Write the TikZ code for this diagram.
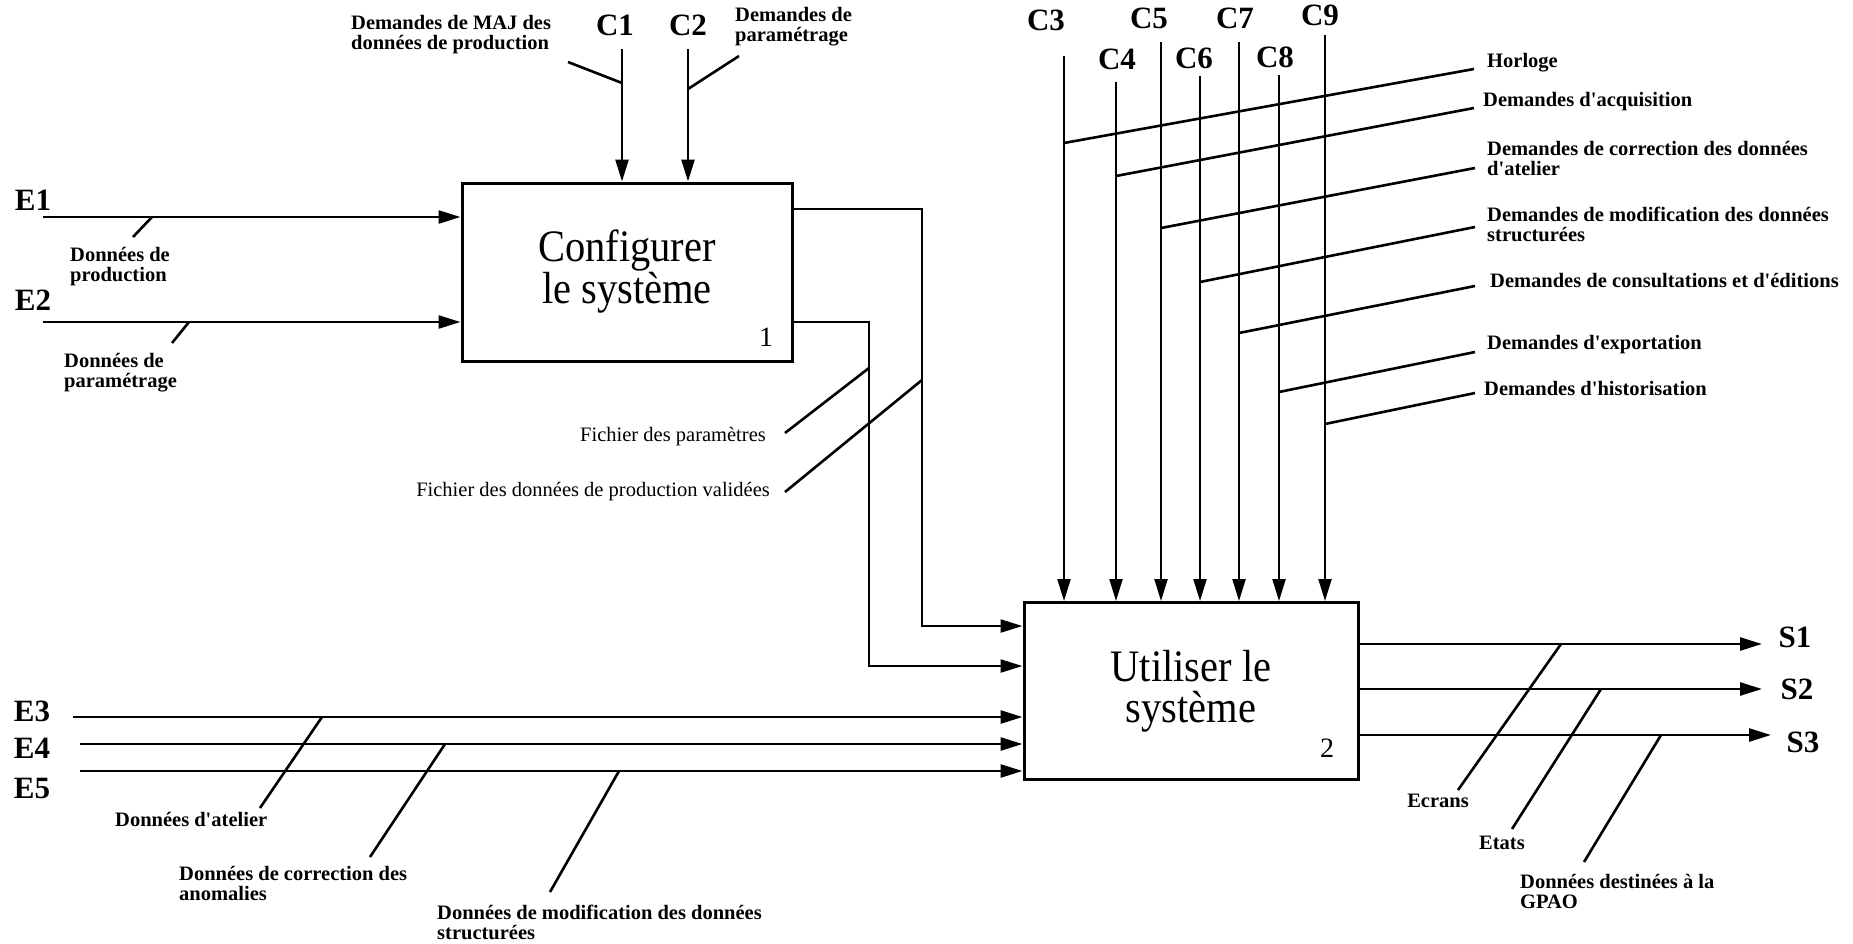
\documentclass[tikz,border=0pt]{standalone}
\usepackage{fontspec}
\setmainfont{Liberation Serif}
\newfontfamily\condfont[FakeStretch=0.9]{Liberation Serif}
\usetikzlibrary{arrows.meta}
\newcommand\ap{\textquotesingle}
\tikzset{
  ln/.style={line width=2.6pt},
  vln/.style={line width=2.2pt},
  arr/.style={-{Triangle[length=22pt,width=13pt]}},
  box/.style={draw, line width=3pt, rectangle, inner sep=0pt, align=center,
    font=\condfont\fontsize{45}{41}\selectfont},
  lab/.style={font=\fontsize{20.5}{20}\selectfont\bfseries, align=left, inner sep=0pt},
  fich/.style={font=\fontsize{20.5}{20}\selectfont, inner sep=0pt, anchor=east},
  bigc/.style={font=\fontsize{31}{31}\selectfont\bfseries, inner sep=0pt},
  bigb/.style={font=\fontsize{31}{31}\selectfont\bfseries, inner sep=0pt},
  num/.style={font=\fontsize{28}{28}\selectfont, inner sep=0pt},
}
\begin{document}
\begin{tikzpicture}[x=1pt,y=-1pt]
\useasboundingbox (0,0) rectangle (1853,943);

% boxes
\node[box, minimum width=330pt, minimum height=178pt] (b1) at (627,272) {Configurer\\le système};
\node[box, minimum width=334pt, minimum height=177pt] (b2) at (1191,691) {Utiliser le\\système};
\node[num] (n1) at (766,337) {1};
\node[num] (n2) at (1327,748) {2};

% ---------- box 1 controls
\node[bigc] (c1l) at (615,25) {C1};
\node[bigc] (c2l) at (688,25) {C2};
\coordinate (c1s) at (622,49);
\coordinate (c2s) at (688,49);
\draw[ln,arr] (c1s) -- (c1s |- b1.north);
\draw[ln,arr] (c2s) -- (c2s |- b1.north);
\coordinate (c1t) at (622,83); \coordinate (c1te) at (568,62);
\coordinate (c2t) at (688,89); \coordinate (c2te) at (739,56);
\draw[ln] (c1te) -- (c1t);
\draw[ln] (c2te) -- (c2t);
\node[lab, anchor=west] (c1d) at (351,35) {Demandes de MAJ des\\données de production};
\node[lab, anchor=west] (c2d) at (735,27) {Demandes de\\paramétrage};

% ---------- box 1 inputs
\node[bigb] (e1l) at (33,200) {E1};
\node[bigb] (e2l) at (33,300) {E2};
\coordinate (e1s) at (43,217);
\coordinate (e2s) at (43,322);
\draw[ln,arr] (e1s) -- (e1s -| b1.west);
\draw[ln,arr] (e2s) -- (e2s -| b1.west);
\coordinate (e1t) at (152,217); \coordinate (e1te) at (133,237);
\coordinate (e2t) at (189,322); \coordinate (e2te) at (172,343);
\draw[ln] (e1t) -- (e1te);
\draw[ln] (e2t) -- (e2te);
\node[lab, anchor=west] (e1d) at (70,267) {Données de\\production};
\node[lab, anchor=west] (e2d) at (64,373) {Données de\\paramétrage};

% ---------- box 1 outputs -> box 2
\coordinate (o1a) at (792,209); \coordinate (o1b) at (922,626);
\coordinate (o2a) at (792,322); \coordinate (o2b) at (869,666);
\draw[vln,arr] (b1.east |- o1a) -| (o1b) -- (o1b -| b2.west);
\draw[vln,arr] (b1.east |- o2a) -| (o2b) -- (o2b -| b2.west);
\coordinate (f1t) at (869,368); \coordinate (f1te) at (785,433);
\coordinate (f2t) at (922,380); \coordinate (f2te) at (785,492);
\draw[ln] (f1t) -- (f1te);
\draw[ln] (f2t) -- (f2te);
\node[fich] (f1d) at (766,437) {Fichier des paramètres};
\node[fich] (f2d) at (770,492) {Fichier des données de production validées};

% ---------- box 2 controls
\node[bigc] (c3l) at (1046,20) {C3};
\node[bigc] (c4l) at (1117,59) {C4};
\node[bigc] (c5l) at (1149,18) {C5};
\node[bigc] (c6l) at (1194,58) {C6};
\node[bigc] (c7l) at (1235,18) {C7};
\node[bigc] (c8l) at (1275,57) {C8};
\node[bigc] (c9l) at (1320,15) {C9};
\coordinate (c3s) at (1064,56);
\coordinate (c4s) at (1116,82);
\coordinate (c5s) at (1161,42);
\coordinate (c6s) at (1200,76);
\coordinate (c7s) at (1239,42);
\coordinate (c8s) at (1279,75);
\coordinate (c9s) at (1325,35);
\foreach \c in {c3s,c4s,c5s,c6s,c7s,c8s,c9s}
  \draw[vln,arr] (\c) -- (\c |- b2.north);
\coordinate (t3) at (1064,143); \coordinate (t3e) at (1474,69);
\coordinate (t4) at (1116,176); \coordinate (t4e) at (1474,108);
\coordinate (t5) at (1161,228); \coordinate (t5e) at (1475,168);
\coordinate (t6) at (1200,282); \coordinate (t6e) at (1475,227);
\coordinate (t7) at (1239,333); \coordinate (t7e) at (1475,286);
\coordinate (t8) at (1279,392); \coordinate (t8e) at (1475,352);
\coordinate (t9) at (1325,424); \coordinate (t9e) at (1475,393);
\draw[ln] (t3) -- (t3e);
\draw[ln] (t4) -- (t4e);
\draw[ln] (t5) -- (t5e);
\draw[ln] (t6) -- (t6e);
\draw[ln] (t7) -- (t7e);
\draw[ln] (t8) -- (t8e);
\draw[ln] (t9) -- (t9e);
\node[lab, anchor=west] (d3) at (1487,63) {Horloge};
\node[lab, anchor=west] (d4) at (1483,102) {Demandes d\ap acquisition};
\node[lab, anchor=west] (d5) at (1487,158) {Demandes de correction des données\\d\ap atelier};
\node[lab, anchor=west] (d6) at (1487,224) {Demandes de modification des données\\structurées};
\node[lab, anchor=west] (d7) at (1490,280) {Demandes de consultations et d\ap éditions};
\node[lab, anchor=west] (d8) at (1487,345) {Demandes d\ap exportation};
\node[lab, anchor=west] (d9) at (1484,388) {Demandes d\ap historisation};

% ---------- box 2 inputs
\node[bigb] (e3l) at (32,711) {E3};
\node[bigb] (e4l) at (32,748) {E4};
\node[bigb] (e5l) at (32,788) {E5};
\coordinate (e3s) at (73,717);
\coordinate (e4s) at (80,744);
\coordinate (e5s) at (80,771);
\draw[ln,arr] (e3s) -- (e3s -| b2.west);
\draw[ln,arr] (e4s) -- (e4s -| b2.west);
\draw[ln,arr] (e5s) -- (e5s -| b2.west);
\coordinate (e3t) at (322,717); \coordinate (e3te) at (260,808);
\coordinate (e4t) at (445,744); \coordinate (e4te) at (370,857);
\coordinate (e5t) at (619,771); \coordinate (e5te) at (550,892);
\draw[ln] (e3t) -- (e3te);
\draw[ln] (e4t) -- (e4te);
\draw[ln] (e5t) -- (e5te);
\node[lab, anchor=west] (e3d) at (115,819) {Données d\ap atelier};
\node[lab, anchor=west] (e4d) at (179,883) {Données de correction des\\anomalies};
\node[lab, anchor=west] (e5d) at (437,922) {Données de modification des données\\structurées};

% ---------- box 2 outputs
\coordinate (s1e) at (1762,644);
\coordinate (s2e) at (1762,689);
\coordinate (s3e) at (1771,735);
\draw[ln,arr] (b2.east |- s1e) -- (s1e);
\draw[ln,arr] (b2.east |- s2e) -- (s2e);
\draw[ln,arr] (b2.east |- s3e) -- (s3e);
\node[bigb] (s1l) at (1795,637) {S1};
\node[bigb] (s2l) at (1797,689) {S2};
\node[bigb] (s3l) at (1803,742) {S3};
\coordinate (s1t) at (1561,644); \coordinate (s1te) at (1458,790);
\coordinate (s2t) at (1601,689); \coordinate (s2te) at (1512,829);
\coordinate (s3t) at (1661,735); \coordinate (s3te) at (1584,862);
\draw[ln] (s1t) -- (s1te);
\draw[ln] (s2t) -- (s2te);
\draw[ln] (s3t) -- (s3te);
\node[lab] (s1d) at (1438,801) {Ecrans};
\node[lab] (s2d) at (1502,843) {Etats};
\node[lab, anchor=west] (s3d) at (1520,891) {Données destinées à la\\GPAO};
\end{tikzpicture}
\end{document}
